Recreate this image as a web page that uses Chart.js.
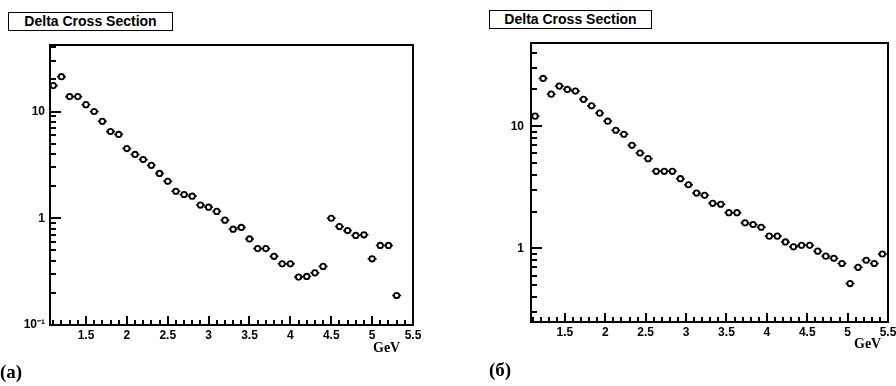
<!DOCTYPE html>
<html>
<head>
<meta charset="utf-8">
<script src="https://cdn.jsdelivr.net/npm/chart.js@4.4.0/dist/chart.umd.min.js"></script>
<style>
  body { margin: 0; background: #fff; }
  #page { position: relative; width: 896px; height: 386px; overflow: hidden; background: #fff; }
  .wrap { position: absolute; }
  .title {
    position: absolute; height: 17px; border: 1.5px solid #000; background: #fff;
    font: bold 14px "Liberation Sans", Arial, sans-serif; text-align: center; line-height: 17px;
  }
  .unit { position: absolute; font: bold 14px "Liberation Serif", "Times New Roman", serif; }
  .tag { position: absolute; font: bold 19px "Liberation Serif", "Times New Roman", serif; }
</style>
</head>
<body>
<div id="page">
  <div class="title" style="left:8px; top:12px; width:163px;">Delta Cross Section</div>
  <div class="title" style="left:489px; top:10px; width:161px;">Delta Cross Section</div>

  <div class="wrap" style="left:0px; top:35px; width:430px; height:330px;"><canvas id="chartA"></canvas></div>
  <div class="wrap" style="left:481px; top:33px; width:415px; height:329px;"><canvas id="chartB"></canvas></div>

  <div class="unit" style="left:373px; top:340px;">GeV</div>
  <div class="unit" style="left:854px; top:336px;">GeV</div>
  <div class="tag" style="left:0px; top:361px;">(a)</div>
  <div class="tag" style="left:489px; top:359px;">(б)</div>
</div>

<script>
// tick labels
const xTicks = [1.5, 2, 2.5, 3, 3.5, 4, 4.5, 5, 5.5];
const yTicksA = [0.1, 1, 10];
const yTicksB = [1, 10];

// panel (a)
const energyA = [1.1, 1.2, 1.3, 1.4, 1.5, 1.6, 1.7, 1.8, 1.9, 2.0,
                 2.1, 2.2, 2.3, 2.4, 2.5, 2.6, 2.7, 2.8, 2.9, 3.0,
                 3.1, 3.2, 3.3, 3.4, 3.5, 3.6, 3.7, 3.8, 3.9, 4.0,
                 4.1, 4.2, 4.3, 4.4, 4.5, 4.6, 4.7, 4.8, 4.9, 5.0,
                 5.1, 5.2, 5.3];
const sigmaA = [17.5, 21.2, 13.8, 13.8, 11.6, 10.0, 8.1, 6.5, 6.1, 4.5,
                3.96, 3.55, 3.13, 2.63, 2.22, 1.79, 1.67, 1.61, 1.33, 1.27,
                1.16, 0.96, 0.79, 0.82, 0.64, 0.52, 0.52, 0.44, 0.374, 0.374,
                0.281, 0.285, 0.308, 0.354, 1.0, 0.836, 0.767, 0.69, 0.70, 0.417,
                0.556, 0.556, 0.189];

// panel (б)
const energyB = [1.13, 1.23, 1.33, 1.43, 1.53, 1.63, 1.73, 1.83, 1.93, 2.03,
                 2.13, 2.23, 2.33, 2.43, 2.53, 2.63, 2.73, 2.83, 2.93, 3.03,
                 3.13, 3.23, 3.33, 3.43, 3.53, 3.63, 3.73, 3.83, 3.93, 4.03,
                 4.13, 4.23, 4.33, 4.43, 4.53, 4.63, 4.73, 4.83, 4.93, 5.03,
                 5.13, 5.23, 5.33, 5.43];
const sigmaB = [12.1, 24.6, 18.3, 21.3, 20.0, 19.4, 16.6, 14.7, 12.8, 11.0,
                9.27, 8.6, 6.98, 6.04, 5.43, 4.28, 4.28, 4.28, 3.72, 3.32,
                2.84, 2.72, 2.34, 2.3, 1.96, 1.96, 1.62, 1.57, 1.49, 1.26,
                1.26, 1.13, 1.03, 1.06, 1.06, 0.95, 0.865, 0.83, 0.753, 0.516,
                0.70, 0.80, 0.753, 0.90];

const tickFont = { family: '"Liberation Sans", Arial, sans-serif', size: 12, weight: 'bold' };

// frame + inward ticks, ROOT style
const framePlugin = {
  id: 'frame',
  afterDraw(chart) {
    const ctx = chart.ctx;
    const a = chart.chartArea;
    const xs = chart.scales.x, ys = chart.scales.y;
    ctx.save();
    ctx.fillStyle = '#000';
    // x: every 0.1, long every 0.5
    for (let i = 10; i <= 56; i++) {
      const px = Math.round(xs.getPixelForValue(i / 10));
      if (!(px >= a.left - 0.5 && px <= a.right + 0.5)) continue;
      const len = (i % 5 === 0) ? 9 : 5;
      ctx.fillRect(px - 1, a.bottom - len, 2, len);
    }
    // log y: decades long, 2..9 short
    for (let e = -2; e <= 2; e++) {
      for (let m = 1; m <= 9; m++) {
        const py = Math.round(ys.getPixelForValue(m * Math.pow(10, e)));
        if (!(py >= a.top - 0.5 && py <= a.bottom + 0.5)) continue;
        const len = m === 1 ? 11 : 6;
        ctx.fillRect(a.left, py - 1, len, 2);
      }
    }
    // frame
    const w = a.right - a.left, h = a.bottom - a.top;
    ctx.fillRect(a.left - 1, a.top - 1, w + 2, 2);
    ctx.fillRect(a.left - 1, a.bottom - 1, w + 2, 2);
    ctx.fillRect(a.left - 1, a.top - 1, 2, h + 2);
    ctx.fillRect(a.right - 1, a.top - 1, 2, h + 2);
    ctx.restore();
  }
};

function makeChart(id, xs, ys, opt) {
  const pts = xs.map((v, i) => ({ x: v, y: ys[i] }));
  return new Chart(document.getElementById(id), {
    type: 'scatter',
    data: {
      datasets: [
        { data: pts, pointStyle: 'circle', pointRadius: 2.7, borderWidth: 1.8,
          borderColor: '#000', backgroundColor: '#fff' },
        { data: pts, pointStyle: 'line', pointRadius: 4.5, borderWidth: 1.5,
          borderColor: '#000' }
      ]
    },
    options: {
      responsive: true,
      maintainAspectRatio: false,
      animation: false,
      layout: { padding: { top: 10, right: opt.padRight, left: 0, bottom: 0 } },
      plugins: { legend: { display: false }, tooltip: { enabled: false } },
      scales: {
        x: {
          type: 'linear', min: opt.xMin, max: 5.5,
          grid: { display: false, drawTicks: false },
          border: { display: false },
          afterBuildTicks: s => { s.ticks = xTicks.map(v => ({ value: v })); },
          afterFit: s => { s.height = 40; s.paddingLeft = 0; s.paddingRight = 0; },
          ticks: { color: '#000', font: tickFont, padding: 3, maxRotation: 0,
                   callback: v => String(v) }
        },
        y: {
          type: 'logarithmic', min: opt.yMin, max: opt.yMax,
          grid: { display: false, drawTicks: false },
          border: { display: false },
          afterBuildTicks: s => { s.ticks = opt.yTicks.map(v => ({ value: v })); },
          afterFit: s => { s.width = 50; s.paddingTop = 0; s.paddingBottom = 0; },
          ticks: { color: '#000', font: tickFont, padding: opt.yPad,
                   callback: v => (v === 0.1 ? '10\u207B\u00B9' : String(v)) }
        }
      }
    },
    plugins: [framePlugin]
  });
}

makeChart('chartA', energyA, sigmaA,
  { xMin: 1.06, yMin: 0.1, yMax: 42, yTicks: yTicksA, yPad: 5, padRight: 17 });
makeChart('chartB', energyB, sigmaB,
  { xMin: 1.08, yMin: 0.25, yMax: 48, yTicks: yTicksB, yPad: 7, padRight: 8 });
</script>
</body>
</html>
